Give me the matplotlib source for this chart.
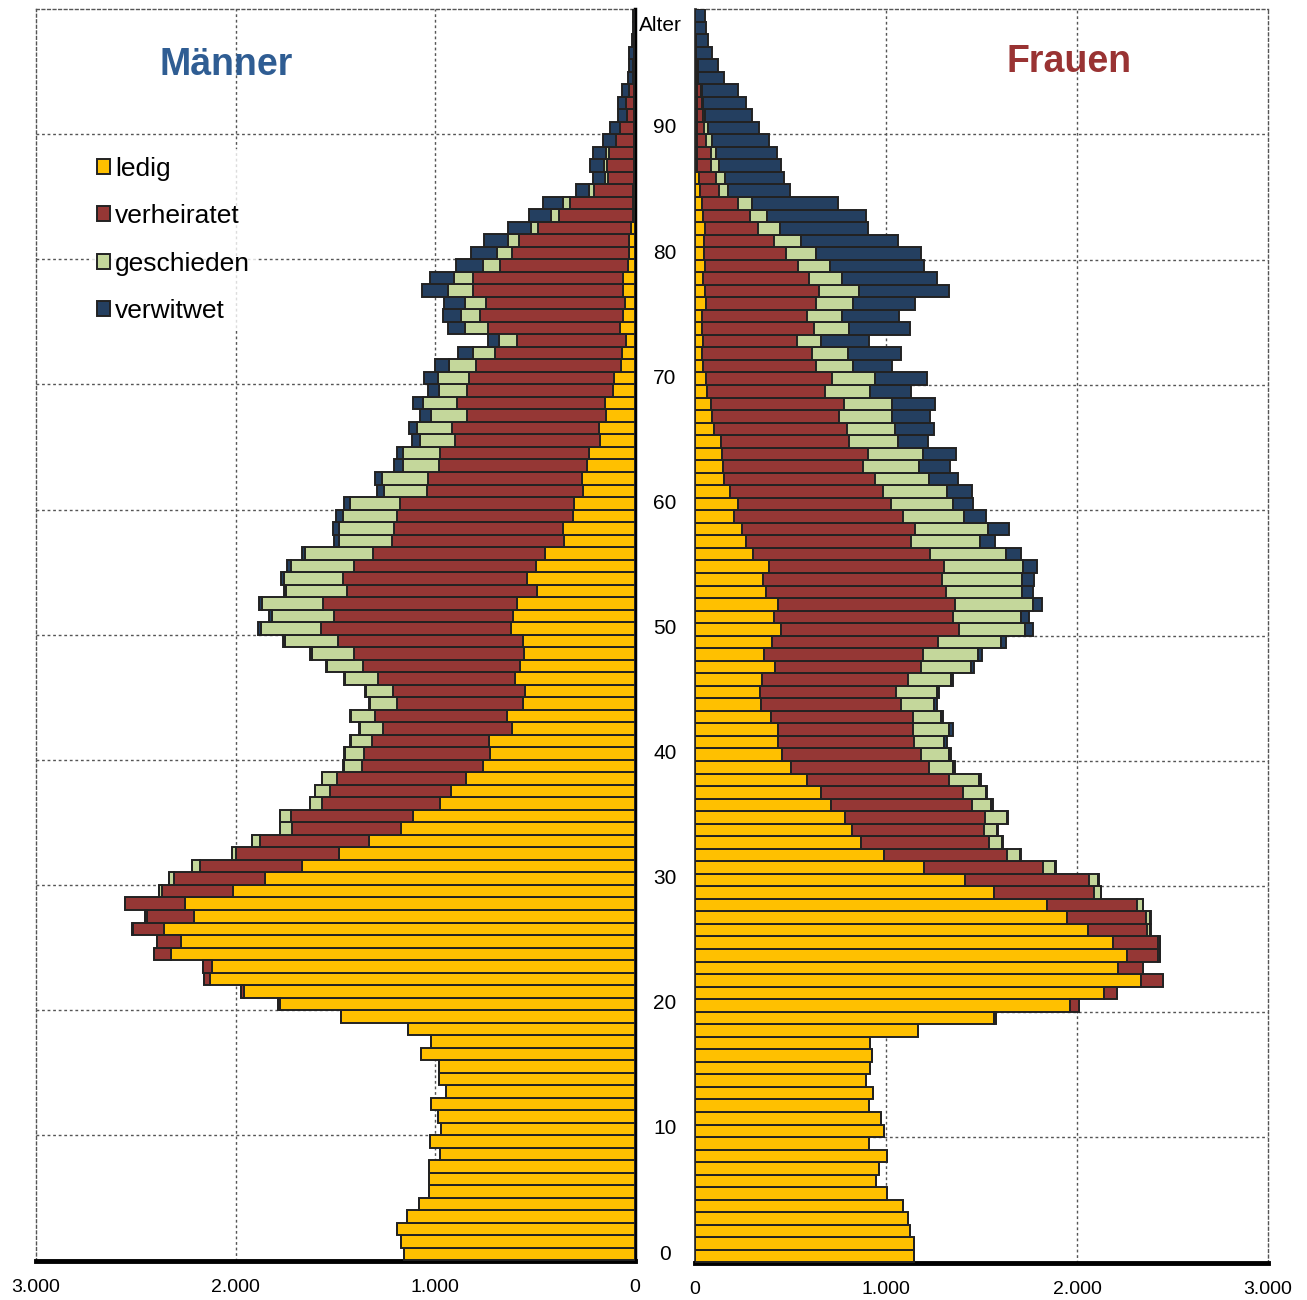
import matplotlib
matplotlib.use("Agg")
import matplotlib.pyplot as plt
from matplotlib.patches import Patch
import numpy as np

plt.rcParams['font.family'] = ['Liberation Sans', 'DejaVu Sans']

ages = np.arange(0, 100)
categories = ['ledig', 'verheiratet', 'geschieden', 'verwitwet']
colors = ['#FFC000', '#953735', '#C4D79B', '#243F60']

# Männer, ages 0..99
m_ledig = [1157, 1173, 1193, 1140, 1082, 1030, 1030, 1030, 976, 1026,
           971, 988, 1023, 948, 981, 980, 1073, 1023, 1135, 1474,
           1780, 1958, 2128, 2120, 2325, 2275, 2358, 2211, 2252, 2014,
           1853, 1669, 1480, 1330, 1172, 1110, 976, 921, 846, 763,
           726, 729, 618, 643, 562, 551, 601, 576, 554, 562,
           621, 609, 592, 492, 539, 496, 451, 355, 359, 309,
           304, 262, 267, 242, 230, 175, 179, 147, 150, 108,
           105, 72, 67, 45, 75, 62, 50, 62, 58, 37,
           32, 32, 20, 10, 10, 8, 6, 5, 5, 4,
           4, 3, 3, 3, 2, 2, 1, 1, 0, 0]
m_verh = [0, 0, 0, 0, 0, 0, 0, 0, 0, 0,
          0, 0, 0, 0, 0, 0, 0, 0, 0, 0,
          10, 16, 30, 46, 82, 117, 157, 231, 302, 356,
          455, 512, 518, 548, 547, 614, 590, 606, 648, 606,
          629, 590, 642, 659, 628, 659, 684, 784, 853, 927,
          953, 898, 972, 952, 925, 911, 863, 863, 846, 881,
          873, 778, 771, 739, 746, 726, 739, 696, 743, 735,
          726, 726, 634, 544, 659, 714, 696, 751, 755, 639,
          586, 547, 464, 369, 315, 196, 128, 137, 127, 91,
          71, 39, 42, 25, 8, 6, 5, 3, 2, 2]
m_gesch = [0, 0, 0, 0, 0, 0, 0, 0, 0, 0,
           0, 0, 0, 0, 0, 0, 0, 0, 0, 0,
           0, 0, 0, 0, 0, 0, 5, 11, 0, 12,
           27, 39, 21, 41, 58, 53, 61, 75, 75, 88,
           97, 105, 117, 122, 137, 139, 167, 184, 210, 263,
           300, 311, 304, 303, 292, 317, 338, 264, 277, 274,
           250, 215, 230, 182, 187, 176, 172, 180, 167, 137,
           154, 132, 108, 90, 117, 94, 104, 125, 93, 83,
           71, 55, 38, 43, 37, 25, 16, 12, 13, 0,
           0, 0, 0, 0, 0, 0, 0, 0, 0, 0]
m_verw = [0, 0, 0, 0, 0, 0, 0, 0, 0, 0,
          0, 0, 0, 0, 0, 0, 0, 0, 0, 0,
          0, 0, 0, 0, 0, 0, 0, 0, 0, 0,
          0, 0, 0, 0, 0, 0, 0, 0, 0, 3,
          3, 3, 3, 5, 5, 5, 5, 6, 10, 9,
          12, 13, 13, 10, 18, 17, 14, 27, 32, 36,
          28, 35, 32, 44, 27, 40, 42, 54, 53, 58,
          71, 71, 76, 57, 84, 93, 106, 130, 120, 137,
          132, 122, 116, 107, 100, 66, 59, 71, 64, 64,
          49, 45, 38, 37, 25, 24, 22, 10, 8, 6]

# Frauen, ages 0..99
f_ledig = [1148, 1148, 1124, 1115, 1087, 1003, 946, 961, 1007, 911,
           988, 974, 909, 932, 895, 916, 925, 918, 1166, 1565,
           1963, 2143, 2337, 2216, 2260, 2186, 2059, 1946, 1841, 1565,
           1415, 1201, 989, 871, 824, 787, 714, 661, 588, 503,
           457, 436, 435, 400, 345, 342, 351, 417, 360, 401,
           452, 412, 433, 373, 358, 386, 302, 269, 244, 202,
           225, 183, 150, 145, 141, 134, 99, 87, 86, 65,
           56, 40, 35, 44, 38, 38, 58, 51, 44, 54,
           47, 49, 54, 42, 35, 28, 23, 12, 12, 12,
           12, 12, 12, 9, 3, 3, 2, 1, 0, 0]
f_verh = [0, 0, 0, 0, 0, 0, 0, 0, 0, 0,
          0, 0, 0, 0, 0, 0, 0, 0, 0, 10,
          47, 64, 111, 131, 165, 239, 305, 413, 471, 524,
          648, 623, 646, 670, 689, 733, 734, 740, 743, 722,
          728, 712, 708, 743, 735, 708, 764, 768, 835, 871,
          928, 937, 930, 941, 935, 916, 928, 860, 908, 889,
          801, 799, 790, 733, 766, 674, 695, 665, 694, 617,
          659, 593, 577, 488, 587, 550, 574, 598, 551, 483,
          429, 365, 278, 246, 192, 96, 87, 74, 74, 46,
          35, 28, 25, 21, 5, 8, 3, 2, 1, 1]
f_gesch = [0, 0, 0, 0, 0, 0, 0, 0, 0, 0,
           0, 0, 0, 0, 0, 0, 0, 0, 0, 0,
           0, 0, 0, 0, 8, 8, 18, 23, 32, 35,
           48, 62, 66, 66, 68, 112, 104, 122, 157, 124,
           146, 157, 188, 143, 173, 215, 223, 262, 287, 328,
           346, 356, 405, 396, 419, 417, 400, 363, 380, 317,
           323, 336, 285, 296, 288, 256, 255, 279, 251, 234,
           229, 196, 191, 126, 183, 183, 193, 211, 173, 170,
           157, 143, 115, 91, 73, 51, 45, 41, 24, 31,
           21, 14, 7, 7, 6, 3, 2, 1, 1, 0]
f_verw = [0, 0, 0, 0, 0, 0, 0, 0, 0, 0,
          0, 0, 0, 0, 0, 0, 0, 0, 0, 0,
          0, 0, 0, 0, 0, 0, 5, 3, 3, 3,
          6, 4, 4, 4, 5, 7, 6, 7, 8, 14,
          11, 12, 18, 14, 12, 11, 15, 14, 20, 28,
          42, 45, 47, 61, 65, 73, 78, 80, 110, 114,
          108, 132, 150, 163, 170, 156, 200, 199, 227, 213,
          272, 202, 274, 255, 318, 299, 325, 470, 497, 492,
          552, 504, 461, 516, 447, 322, 311, 321, 321, 297,
          265, 246, 223, 190, 140, 105, 80, 62, 56, 51]

xticks = [0, 1000, 2000, 3000]
xticklabels = ['0', '1.000', '2.000', '3.000']
age_labels = [0, 10, 20, 30, 40, 50, 60, 70, 80, 90]

fig = plt.figure(figsize=(13.07, 13.0), dpi=100)
ax_l = fig.add_axes([36 / 1307, 39 / 1300, 599 / 1307, 1252 / 1300])
ax_r = fig.add_axes([695 / 1307, 37 / 1300, 573 / 1307, 1254 / 1300])

grid_kw = dict(color='#555555', linestyle=(0, (2, 2)), linewidth=1.0, zorder=0)


def draw_side(ax, series):
    left = np.zeros(len(ages))
    for vals, col in zip(series, colors):
        vals = np.asarray(vals, dtype=float)
        ax.barh(ages, vals, left=left, height=1.0, color=col,
                edgecolor='#222222', linewidth=1.4, zorder=3)
        left += vals
    ax.set_ylim(-0.55, 99.5)
    ax.set_yticks([])
    for a in age_labels[1:]:
        ax.axhline(a - 0.5, **grid_kw)
    for x in [1000, 2000]:
        ax.axvline(x, **grid_kw)
    ax.set_xticks(xticks)
    ax.set_xticklabels(xticklabels, fontsize=14)
    ax.tick_params(axis='x', length=0, pad=13)
    ax.spines['top'].set_linestyle((0, (2, 2)))
    ax.spines['top'].set_color('#555555')
    ax.spines['top'].set_linewidth(1.0)
    ax.spines['bottom'].set_linewidth(3.5)
    ax.spines['bottom'].set_color('black')


draw_side(ax_l, [m_ledig, m_verh, m_gesch, m_verw])
draw_side(ax_r, [f_ledig, f_verh, f_gesch, f_verw])

ax_l.set_xlim(3000, 0)
ax_r.set_xlim(0, 3000)

ax_l.spines['left'].set_linestyle((0, (2, 2)))
ax_l.spines['left'].set_color('#555555')
ax_l.spines['left'].set_linewidth(1.0)
ax_l.spines['right'].set_linewidth(2.5)
ax_l.spines['right'].set_color('black')

ax_r.spines['right'].set_linestyle((0, (2, 2)))
ax_r.spines['right'].set_color('#555555')
ax_r.spines['right'].set_linewidth(1.0)
ax_r.spines['left'].set_linewidth(2.0)
ax_r.spines['left'].set_color('#333333')

# age labels in the middle column
for a in age_labels:
    ax_l.text(-150, a, str(a), ha='center', va='center', fontsize=15, clip_on=False)
ax_l.text(-125, 98.2, 'Alter', ha='center', va='center', fontsize=15, clip_on=False)

fig.text(226 / 1307, 1 - 65 / 1300, 'Männer', ha='center', va='center',
         fontsize=27, fontweight='bold', color='#2F5D93')
fig.text(1069 / 1307, 1 - 62 / 1300, 'Frauen', ha='center', va='center',
         fontsize=27, fontweight='bold', color='#993333')

handles = [Patch(facecolor=c, edgecolor='#222222', linewidth=1.4) for c in colors]
leg = ax_l.legend(handles, categories, loc='upper left',
                  bbox_to_anchor=(76 / 1307, 1 - 136 / 1300), bbox_transform=fig.transFigure,
                  fontsize=19, handlelength=0.5, handleheight=0.5, handletextpad=0.18,
                  labelspacing=0.88, frameon=True, fancybox=False, borderpad=0.3)
leg.get_frame().set_facecolor('white')
leg.get_frame().set_edgecolor('none')
leg.set_zorder(5)

fig.savefig('out.png', dpi=100)
